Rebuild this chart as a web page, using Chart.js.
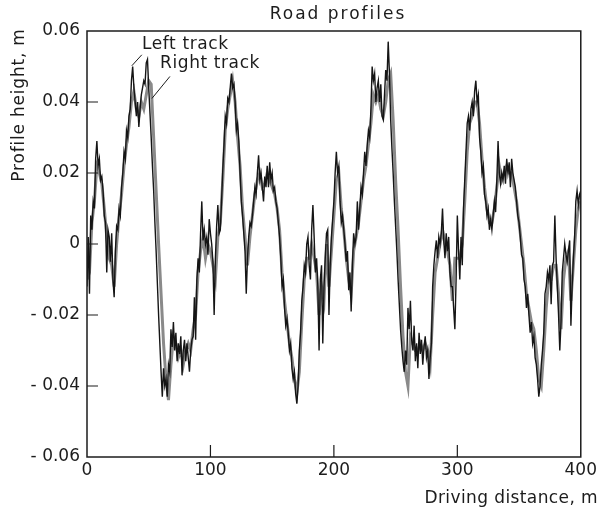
<!DOCTYPE html>
<html>
<head>
<meta charset="utf-8">
<script src="https://cdn.jsdelivr.net/npm/chart.js@4"></script>
<style>
  body { margin: 0; background: #fff; }
  canvas { display: block; }
</style>
</head>
<body>
<canvas id="profileChart" width="600" height="512"></canvas>
<script>
// Road profile data (distance in m, height in m)
const leftStep = 1;
const leftHeight = [
  -0.012, 0.002, -0.014, 0.008, 0.004, 0.012, 0.01, 0.024, 0.029, 0.022,
  0.024, 0.018, 0.019, 0.015, 0.008, 0.006, -0.008, 0.004, 0.002, -0.005,
  0.003, -0.01, -0.015, -0.002, 0.005, 0.004, 0.01, 0.008, 0.016, 0.02,
  0.026, 0.024, 0.032, 0.03, 0.036, 0.038, 0.046, 0.05, 0.044, 0.04,
  0.036, 0.04, 0.033, 0.038, 0.042, 0.044, 0.046, 0.045, 0.051, 0.052,
  0.044, 0.037, 0.03, 0.022, 0.015, 0.006, -0.002, -0.011, -0.02, -0.028,
  -0.036, -0.043, -0.035, -0.04, -0.038, -0.043, -0.034, -0.036, -0.024, -0.029,
  -0.022, -0.03, -0.025, -0.033, -0.028, -0.031, -0.026, -0.037, -0.03, -0.027,
  -0.033, -0.028, -0.032, -0.036, -0.03, -0.027, -0.026, -0.015, -0.027, -0.01,
  -0.004, -0.008, 0.003, 0.012, 0.001, 0.004, 0, 0.002, -0.003, 0.007,
  0.003, 0, -0.005, -0.02, -0.004, 0.005, 0.011, 0.003, 0.004, 0.012,
  0.021, 0.028, 0.036, 0.034, 0.041, 0.04, 0.044, 0.048, 0.044, 0.045,
  0.04, 0.032, 0.034, 0.029, 0.02, 0.012, 0.008, 0.003, -0.002, -0.014,
  -0.004, 0.002, 0.006, 0.005, 0.008, 0.012, 0.016, 0.014, 0.02, 0.025,
  0.018, 0.02, 0.016, 0.012, 0.019, 0.016, 0.022, 0.016, 0.023, 0.018,
  0.02, 0.015, 0.016, 0.012, 0.01, 0.006, 0.002, -0.004, -0.012, -0.01,
  -0.018, -0.023, -0.021, -0.025, -0.03, -0.028, -0.035, -0.038, -0.036, -0.042,
  -0.045, -0.04, -0.03, -0.025, -0.016, -0.012, -0.006, -0.008, 0, 0.002,
  -0.006, -0.01, 0.004, 0.011, 0.002, -0.008, -0.004, -0.012, -0.03, -0.01,
  -0.006, -0.028, -0.012, -0.004, 0.003, 0.004, -0.02, -0.006, 0.002, 0.007,
  0.012, 0.02, 0.026, 0.02, 0.022, 0.012, 0.006, 0.008, 0.004, 0,
  -0.005, -0.002, -0.013, -0.008, -0.019, -0.006, 0.003, 0, 0.002, 0.012,
  0.004, 0.01, 0.016, 0.014, 0.02, 0.026, 0.022, 0.028, 0.032, 0.03,
  0.038, 0.05, 0.046, 0.048, 0.04, 0.044, 0.046, 0.04, 0.045, 0.036,
  0.035, 0.042, 0.049, 0.046, 0.057, 0.048, 0.035, 0.027, 0.02, 0.012,
  0.005, -0.002, -0.01, -0.017, -0.024, -0.029, -0.033, -0.036, -0.03, -0.034,
  -0.018, -0.024, -0.016, -0.027, -0.03, -0.023, -0.033, -0.028, -0.035, -0.025,
  -0.031, -0.027, -0.034, -0.029, -0.026, -0.032, -0.03, -0.038, -0.032, -0.028,
  -0.012, -0.006, -0.002, 0.001, -0.004, 0.002, 0, 0.003, 0.01, 0.001,
  -0.004, 0.003, -0.002, 0.002, -0.008, -0.012, -0.012, -0.018, -0.024, -0.01,
  0.008, -0.002, -0.01, 0.002, -0.006, 0.01, 0.018, 0.026, 0.034, 0.036,
  0.032, 0.038, 0.04, 0.036, 0.043, 0.046, 0.04, 0.042, 0.03, 0.026,
  0.02, 0.022, 0.014, 0.012, 0.008, 0.01, 0.004, 0.007, 0.004, 0.008,
  0.012, 0.009, 0.018, 0.029, 0.02, 0.017, 0.02, 0.018, 0.022, 0.017,
  0.024, 0.02, 0.023, 0.016, 0.024, 0.02, 0.018, 0.016, 0.012, 0.008,
  0.006, 0.002, -0.003, -0.004, -0.01, -0.012, -0.018, -0.014, -0.02, -0.025,
  -0.022, -0.028, -0.026, -0.032, -0.034, -0.038, -0.043, -0.04, -0.034, -0.03,
  -0.025, -0.014, -0.012, -0.008, -0.01, -0.006, -0.017, -0.006, -0.005, 0.008,
  -0.004, -0.012, -0.02, -0.03, -0.022, -0.008, -0.004, 0, -0.003, -0.005,
  -0.002, 0.001, -0.023, -0.012, -0.004, 0.002, 0.012, 0.015, 0.011, 0.014,
  0.015
];

const rightStep = 2;
const rightHeight = [
  -0.01, -0.008, 0.006, 0.012, 0.022, 0.02, 0.017, 0.01, 0.002, -0.004,
  -0.006, -0.012, 0, 0.008, 0.014, 0.022, 0.028, 0.033, 0.04, 0.043,
  0.038, 0.036, 0.04, 0.038, 0.042, 0.046, 0.045, 0.03, 0.015, 0,
  -0.014, -0.028, -0.038, -0.044, -0.034, -0.026, -0.028, -0.032, -0.03, -0.034,
  -0.03, -0.028, -0.03, -0.024, -0.02, -0.008, -0.002, 0.002, -0.004, 0,
  -0.002, -0.006, -0.01, 0.002, 0.006, 0.018, 0.032, 0.038, 0.042, 0.046,
  0.04, 0.03, 0.022, 0.01, 0.002, -0.006, 0.002, 0.008, 0.014, 0.018,
  0.02, 0.016, 0.017, 0.02, 0.018, 0.016, 0.014, 0.01, 0.004, -0.008,
  -0.016, -0.022, -0.028, -0.032, -0.038, -0.042, -0.036, -0.022, -0.01, -0.004,
  -0.004, 0, -0.004, -0.008, -0.02, -0.012, -0.016, 0, -0.012, -0.002,
  0.008, 0.018, 0.02, 0.01, 0.004, -0.004, -0.01, -0.014, -0.002, 0.002,
  0.006, 0.012, 0.018, 0.022, 0.028, 0.034, 0.042, 0.04, 0.042, 0.038,
  0.036, 0.04, 0.046, 0.048, 0.035, 0.018, 0.004, -0.012, -0.026, -0.036,
  -0.04, -0.026, -0.028, -0.03, -0.03, -0.028, -0.03, -0.028, -0.03, -0.034,
  -0.02, -0.008, -0.004, 0, 0.004, 0, -0.002, -0.006, -0.016, -0.004,
  -0.004, -0.004, 0, 0.012, 0.026, 0.034, 0.036, 0.04, 0.04, 0.034,
  0.024, 0.016, 0.01, 0.006, 0.006, 0.01, 0.016, 0.022, 0.018, 0.02,
  0.022, 0.02, 0.02, 0.016, 0.012, 0.006, 0, -0.006, -0.014, -0.018,
  -0.022, -0.024, -0.03, -0.038, -0.04, -0.03, -0.018, -0.01, -0.01, -0.006,
  -0.006, -0.014, -0.024, -0.01, -0.004, -0.002, -0.016, -0.006, 0.004, 0.01,
  0.012
];

const xTicks = [0, 100, 200, 300, 400];
const xTickLabels = ['0', '100', '200', '300', '400'];
const yTickLabels = ['- 0.06', '- 0.04', '- 0.02', '0', '0.02', '0.04', '0.06'];

const FONT = '"DejaVu Sans", sans-serif';
const INK = '#1c1c1c';

function toPoints(values, step) {
    return values.map((v, i) => ({ x: i * step, y: v }));
}

// Frame, inward ticks, titles and track labels
const decorPlugin = {
    id: 'decor',
    afterDraw(chart) {
        const ctx = chart.ctx;
        const a = chart.chartArea;
        const xs = chart.scales.x;
        const ys = chart.scales.y;
        ctx.save();
        ctx.strokeStyle = INK;
        ctx.lineWidth = 1.5;
        ctx.strokeRect(a.left, a.top, a.right - a.left, a.bottom - a.top);

        ctx.lineWidth = 1.2;
        ctx.beginPath();
        ys.ticks.forEach(t => {
            if (t.value <= ys.min || t.value >= ys.max) return;
            const y = ys.getPixelForValue(t.value);
            ctx.moveTo(a.left, y);
            ctx.lineTo(a.left + 11, y);
        });
        xs.ticks.forEach(t => {
            if (t.value <= xs.min || t.value >= xs.max) return;
            const x = xs.getPixelForValue(t.value);
            ctx.moveTo(x, a.bottom);
            ctx.lineTo(x, a.bottom - 12);
        });
        ctx.stroke();

        ctx.fillStyle = INK;
        ctx.font = '17px ' + FONT;
        ctx.textBaseline = 'middle';

        ctx.letterSpacing = '2px';
        ctx.textAlign = 'center';
        ctx.fillText('Road profiles', 338, 15);

        ctx.letterSpacing = '0.4px';
        ctx.textAlign = 'right';
        ctx.fillText('Driving distance, m', 598, 499);

        ctx.save();
        ctx.translate(20, 105);
        ctx.rotate(-Math.PI / 2);
        ctx.textAlign = 'center';
        ctx.letterSpacing = '0.8px';
        ctx.fillText('Profile height, m', 0, 0);
        ctx.restore();

        // leaders to the two tracks
        ctx.letterSpacing = '0.6px';
        ctx.textAlign = 'left';
        ctx.lineWidth = 1;
        const lx = xs.getPixelForValue(36.3), ly = ys.getPixelForValue(0.0502);
        const rx = xs.getPixelForValue(52.6), ry = ys.getPixelForValue(0.0410);
        ctx.beginPath();
        ctx.moveTo(lx, ly);
        ctx.lineTo(lx + 10, ly - 11);
        ctx.moveTo(rx, ry);
        ctx.lineTo(rx + 18, ry - 22);
        ctx.stroke();
        ctx.fillText('Left track', 142, 45);
        ctx.fillText('Right track', 160, 64);
        ctx.restore();
    }
};

function initializeChart() {
    const ctx = document.getElementById('profileChart').getContext('2d');
    new Chart(ctx, {
        type: 'line',
        data: {
            datasets: [{
                label: 'Left track',
                data: toPoints(leftHeight, leftStep),
                borderColor: '#151515',
                borderWidth: 1.4
            }, {
                label: 'Right track',
                data: toPoints(rightHeight, rightStep),
                borderColor: '#8a8a8a',
                borderWidth: 3
            }]
        },
        options: {
            responsive: false,
            animation: false,
            events: [],
            elements: {
                point: { radius: 0 },
                line: { tension: 0 }
            },
            layout: {
                padding: { top: 31, right: 17, left: 0, bottom: 0 }
            },
            plugins: {
                legend: { display: false },
                title: { display: false },
                tooltip: { enabled: false }
            },
            scales: {
                x: {
                    type: 'linear',
                    min: xTicks[0],
                    max: xTicks[xTicks.length - 1],
                    afterBuildTicks: s => { s.ticks = xTicks.map(v => ({ value: v })); },
                    afterFit: s => { s.height = 55; },
                    grid: { display: false, drawTicks: false },
                    border: { display: false },
                    ticks: {
                        padding: 3,
                        maxRotation: 0,
                        color: INK,
                        font: { family: FONT, size: 17 },
                        callback: (v, i) => xTickLabels[i]
                    }
                },
                y: {
                    min: -0.06,
                    max: 0.06,
                    afterBuildTicks: s => {
                        s.ticks = yTickLabels.map((_, i) => ({ value: -0.06 + i * 0.02 }));
                    },
                    afterFit: s => { s.width = 87; },
                    grid: { display: false, drawTicks: false },
                    border: { display: false },
                    ticks: {
                        padding: 7,
                        color: INK,
                        font: { family: FONT, size: 17 },
                        callback: (v, i) => yTickLabels[i]
                    }
                }
            }
        },
        plugins: [decorPlugin]
    });
}

document.addEventListener('DOMContentLoaded', function() {
    initializeChart();
});
</script>
</body>
</html>
